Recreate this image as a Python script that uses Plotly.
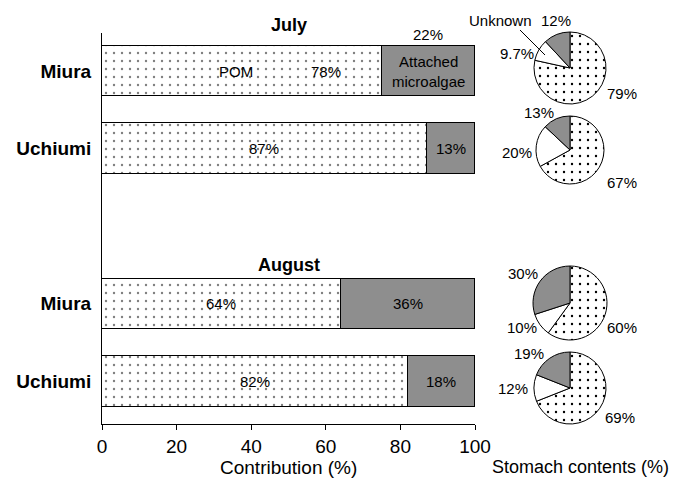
import plotly.graph_objects as go

# ---------------- data ----------------
sites = ["Miura", "Uchiumi", "Miura", "Uchiumi"]
months = ["July", "August"]
slot = [0, 1, 3, 4]                       # row positions of the four bars
pom_bar = [75, 87, 64, 82]                # POM length as drawn (%)
pom_label = ["78%", "87%", "64%", "82%"]
alg_label = ["22%", "13%", "36%", "18%"]
xticks = [0, 20, 40, 60, 80, 100]

pie_pom = [79, 67, 60, 69]
pie_unknown = [9.7, 20, 10, 12]
pie_attached = [12, 13, 30, 19]
pie_pom_lab = ["79%", "67%", "60%", "69%"]
pie_unk_lab = ["9.7%", "20%", "10%", "12%"]
pie_att_lab = ["12%", "13%", "30%", "19%"]

# ---------------- styling ----------------
OFF = 8                      # page body margin
W, H = 680 - OFF, 484 - OFF
GRAY = "#8e8e8e"
FONT = "Liberation Sans, Arial, sans-serif"
dots = dict(shape=".", fgcolor="black", bgcolor="white", size=8, solidity=0.07)

def px_x(p):
    return (p - OFF) / W

def px_y(p):
    return 1 - (p - OFF) / H

fig = go.Figure()

alg_bar = [100 - v for v in pom_bar]
fig.add_trace(go.Bar(
    x=pom_bar, y=slot, orientation="h", width=0.65,
    marker=dict(color="white", pattern=dots, line=dict(color="black", width=1)),
    showlegend=False, hoverinfo="skip"))
fig.add_trace(go.Bar(
    x=alg_bar, y=slot, orientation="h", width=0.65,
    marker=dict(color=GRAY, line=dict(color="black", width=1)),
    showlegend=False, hoverinfo="skip"))

# ---------------- pies ----------------
pie_centers = [(570, 68, 36), (570, 150, 34), (570, 303, 37), (570, 388, 36)]
for i, (cx, cy, r) in enumerate(pie_centers):
    fig.add_trace(go.Pie(
        values=[pie_pom[i], pie_unknown[i], pie_attached[i]],
        labels=["POM", "Unknown", "Attached microalgae"],
        sort=False, direction="clockwise", rotation=0,
        textinfo="none", hoverinfo="skip", showlegend=False,
        marker=dict(colors=["white", "white", GRAY],
                    pattern=dict(shape=[".", "", ""], fgcolor="black",
                                 bgcolor=["white", "white", GRAY], size=8, solidity=0.07),
                    line=dict(color="black", width=1)),
        domain=dict(x=[px_x(cx - r), px_x(cx + r)], y=[px_y(cy + r), px_y(cy - r)])))

ann = []

def add(x, y, text, xref="paper", yref="paper", size=15):
    ann.append(dict(x=x, y=y, text=text, xref=xref, yref=yref, showarrow=False,
                    xanchor="center", yanchor="middle", font=dict(size=size)))

# bar labels
for i in range(4):
    if i == 0:
        add(36, slot[i], "POM", "x", "y")
        add(60, slot[i], pom_label[i], "x", "y")
        add(pom_bar[i] + alg_bar[i] / 2, slot[i], "Attached<br>microalgae", "x", "y")
        add(pom_bar[i] + alg_bar[i] / 2, -0.47, alg_label[i], "x", "y")
    else:
        add(pom_bar[i] / 2, slot[i], pom_label[i], "x", "y")
        add(pom_bar[i] + alg_bar[i] / 2, slot[i], alg_label[i], "x", "y")

# month titles
add(50, px_y(25), "<b>July</b>", "x", "paper", 18)
add(50, px_y(265), "<b>August</b>", "x", "paper", 18)

# pie labels
pie_lab_pos = [
    [(622, 93), (517, 53), (556, 20)],
    [(622, 182), (517, 152), (539, 112)],
    [(622, 327), (522, 327), (523, 273)],
    [(620, 417), (513, 388), (529, 353)],
]
for i in range(4):
    for (lx, ly), t in zip(pie_lab_pos[i], [pie_pom_lab[i], pie_unk_lab[i], pie_att_lab[i]]):
        add(px_x(lx), px_y(ly), t)
add(px_x(501), px_y(20), "Unknown")
# leader line for "Unknown"
shapes = [dict(type="line", xref="paper", yref="paper", x0=px_x(520), y0=px_y(30), x1=px_x(545), y1=px_y(55),
               line=dict(color="black", width=1))]

add(50, px_y(467), "Contribution (%)", "x", "paper", 19)
add(px_x(580), px_y(467), "Stomach contents (%)", size=18)

fig.update_layout(
    width=W, height=H, barmode="stack", bargap=0,
    paper_bgcolor="white", plot_bgcolor="white",
    margin=dict(l=0, r=0, t=0, b=0, autoexpand=False),
    font=dict(family=FONT, size=15, color="black"),
    annotations=ann, shapes=shapes,
    xaxis=dict(domain=[px_x(102), px_x(475)], range=[0, 100], tickvals=xticks, automargin=False,
               ticks="outside", ticklen=5, tickcolor="black", showline=True, linecolor="black",
               linewidth=1, showgrid=False, zeroline=False, tickfont=dict(size=19)),
    yaxis=dict(domain=[px_y(424), px_y(33)], range=[4.55, -0.49], tickvals=slot, automargin=False,
               ticktext=["<b>%s</b>" % s for s in sites], ticks="", showline=True,
               linecolor="black", linewidth=1, showgrid=False, zeroline=False,
               tickfont=dict(size=19), ticklabelstandoff=6),
)

fig.write_html("out.html")
